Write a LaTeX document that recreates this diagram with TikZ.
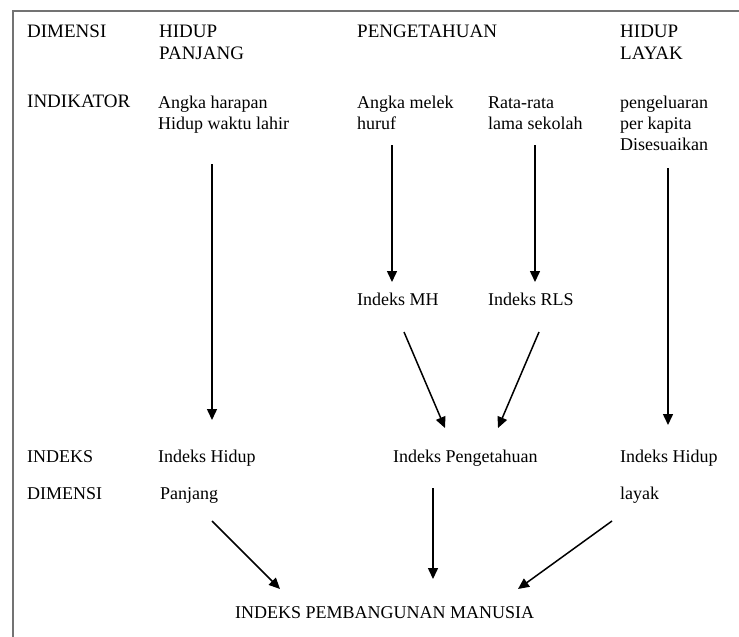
\documentclass[tikz,border=0pt]{standalone}
\usepackage{fontspec}
\setmainfont{Liberation Serif}
\usetikzlibrary{arrows.meta}

\begin{document}
\begin{tikzpicture}[x=1pt,y=-1pt,
  lbl/.style={font=\fontsize{19}{22}\selectfont,anchor=base west,inner sep=0pt,align=left},
  sml/.style={lbl,font=\fontsize{18}{21}\selectfont},
  arr/.style={line width=1.5pt,-{Triangle[length=11pt,width=10pt]}}]
\useasboundingbox (0,0) rectangle (739,637);
\draw[black!55,line width=2pt] (13,637) -- (13,11) -- (739,11);

\node[lbl] (dimA) at (27,37) {DIMENSI};
\node[lbl] (hp) at (159,59) {HIDUP\\PANJANG};
\node[lbl] (pg) at (357,37) {PENGETAHUAN};
\node[lbl] (hl) at (620,59) {HIDUP\\LAYAK};

\node[lbl] (ind) at (27,107) {INDIKATOR};
\node[sml] (ahh) at (158,129) {Angka harapan\\Hidup waktu lahir};
\node[sml] (amh) at (357,129) {Angka melek\\huruf};
\node[sml] (rls) at (488,129) {Rata-rata\\lama sekolah};
\node[sml] (pk) at (620,150) {pengeluaran\\per kapita\\Disesuaikan};

\node[sml] (imh) at (357,305) {Indeks MH};
\node[sml] (irls) at (488,305) {Indeks RLS};

\node[sml] (idx) at (27,462) {INDEKS};
\node[sml] (ihp) at (158,462) {Indeks Hidup};
\node[sml] (ipg) at (393,462) {Indeks Pengetahuan};
\node[sml] (ihl) at (620,462) {Indeks Hidup};
\node[sml] (dimB) at (27,499) {DIMENSI};
\node[sml] (pj) at (160,499) {Panjang};
\node[sml] (ly) at (620,499) {layak};

\node[sml] (ipm) at (235,618) {INDEKS PEMBANGUNAN MANUSIA};

\draw[arr] ([xshift=54pt,yshift=-35pt]ahh.base west) -- ([xshift=54pt,yshift=42pt]ihp.base west);
\draw[arr] ([xshift=35pt,yshift=-16pt]amh.base west) -- ([xshift=35pt,yshift=23pt]imh.base west);
\draw[arr] ([xshift=47pt,yshift=-16pt]rls.base west) -- ([xshift=47pt,yshift=23pt]irls.base west);
\draw[arr] ([xshift=48pt,yshift=-18pt]pk.base west) -- ([xshift=48pt,yshift=37pt]ihl.base west);

\draw[arr] ([xshift=47pt,yshift=-27pt]imh.base west) -- ([xshift=52pt,yshift=34pt]ipg.base west);
\draw[arr] ([xshift=51pt,yshift=-27pt]irls.base west) -- ([xshift=105pt,yshift=34pt]ipg.base west);

\draw[arr] ([xshift=52pt,yshift=-22pt]pj.base west) -- ([xshift=45pt,yshift=29pt]ipm.base west);
\draw[arr] ([xshift=40pt,yshift=-26pt]ipg.base west) -- ([xshift=198pt,yshift=39pt]ipm.base west);
\draw[arr] ([xshift=-8pt,yshift=-22pt]ly.base west) -- ([xshift=283pt,yshift=29pt]ipm.base west);
\end{tikzpicture}
\end{document}
